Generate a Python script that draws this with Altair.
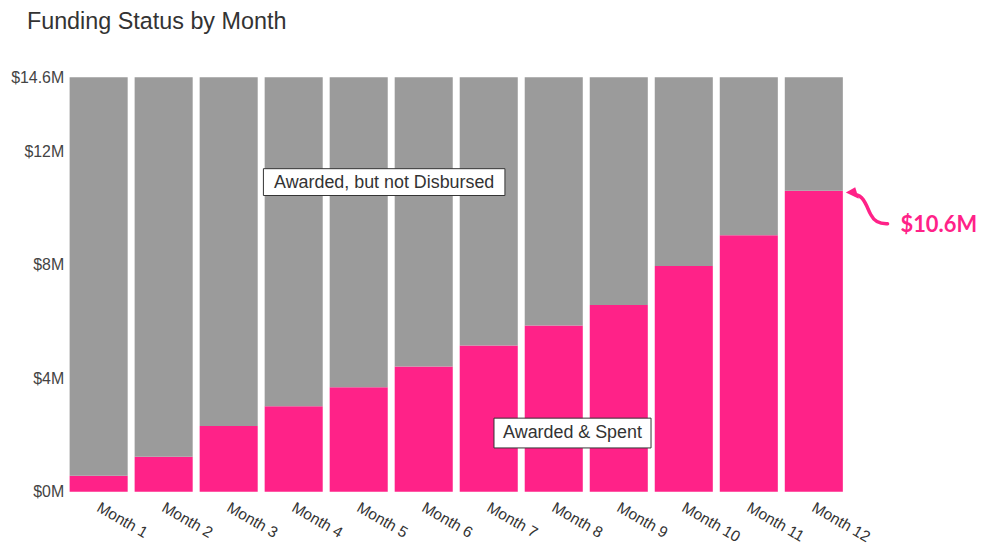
import altair as alt
import pandas as pd

# ---- data ----
months = ["Month 1", "Month 2", "Month 3", "Month 4", "Month 5", "Month 6",
          "Month 7", "Month 8", "Month 9", "Month 10", "Month 11", "Month 12"]
spent = [0.56, 1.23, 2.31, 3.01, 3.68, 4.41, 5.15, 5.85, 6.58, 7.95, 9.03, 10.6]
awarded_total = 14.6
y_ticks = [0, 4, 8, 12, 14.6]
series = ["Awarded & Spent", "Awarded, but not Disbursed"]
colors = ["#FF2288", "#9B9B9B"]
title_text = "Funding Status by Month"
callout_text = "$" + str(spent[-1]) + "M"

rows = []
for m, s in zip(months, spent):
    rows.append({"month": m, "status": series[0], "value": s, "order": 0})
    rows.append({"month": m, "status": series[1], "value": round(awarded_total - s, 2), "order": 1})
df = pd.DataFrame(rows)
one = pd.DataFrame({"a": [1]})

PINK = colors[0]
FONT = "Liberation Sans"

bars = alt.Chart(df).mark_bar().encode(
    x=alt.X("month:N", sort=months,
            scale=alt.Scale(paddingInner=0.107, paddingOuter=0),
            axis=alt.Axis(title=None, labelAngle=30, labelAlign="left", labelBaseline="top",
                          ticks=False, domain=False, labelPadding=8, labelOffset=3,
                          labelFontSize=15.5, labelColor="#333", labelFont=FONT)),
    y=alt.Y("value:Q", stack="zero",
            scale=alt.Scale(domain=[0, awarded_total], nice=False, zero=True),
            axis=alt.Axis(title=None, values=y_ticks, labelExpr="'$' + datum.value + 'M'",
                          ticks=False, domain=False, grid=False, labelPadding=6,
                          labelFontSize=16, labelColor="#444", labelFont=FONT)),
    color=alt.Color("status:N", scale=alt.Scale(domain=series, range=colors), legend=None),
    order=alt.Order("order:Q"),
)

rect1 = alt.Chart(one).mark_rect(fill="white", stroke="#333", strokeWidth=1).encode(
    x=alt.value(195), x2=alt.value(438), y=alt.value(92), y2=alt.value(119))
text1 = alt.Chart(one).mark_text(text=series[1], font=FONT, fontSize=18, color="#333",
                                 align="center", baseline="middle").encode(
    x=alt.value(316.5), y=alt.value(106))

rect2 = alt.Chart(one).mark_rect(fill="white", stroke="#333", strokeWidth=1).encode(
    x=alt.value(427), x2=alt.value(585), y=alt.value(343), y2=alt.value(373))
text2 = alt.Chart(one).mark_text(text=series[0], font=FONT, fontSize=18, color="#333",
                                 align="center", baseline="middle").encode(
    x=alt.value(506), y=alt.value(358))

curve_path = "M -0.55 -0.62 C -0.1 -0.55 0.0 0.0 0.2 0.35 C 0.35 0.65 0.6 0.8 1.0 0.78"
head_path = "M -1 -0.72 L -0.55 -0.97 L -0.38 -0.42 Z"

arrow_curve = alt.Chart(one).mark_point(shape=curve_path, filled=False, stroke=PINK,
                                        strokeWidth=3.5, strokeCap="round", size=1764,
                                        opacity=1).encode(x=alt.value(802), y=alt.value(131))
arrow_head = alt.Chart(one).mark_point(shape=head_path, filled=True, fill=PINK, strokeWidth=0,
                                       size=1764, opacity=1).encode(x=alt.value(802), y=alt.value(131))

callout = alt.Chart(one).mark_text(text=callout_text, font="Lato", fontWeight="bold",
                                   fontSize=22, color=PINK, align="left",
                                   baseline="middle").encode(x=alt.value(836), y=alt.value(149))

chart = alt.layer(bars, rect1, text1, rect2, text2, arrow_curve, arrow_head, callout).properties(
    width=778, height=417,
    title=alt.TitleParams(title_text, anchor="start", frame="group", dx=-43, fontSize=23.5,
                          font=FONT, fontWeight="normal", color="#333", offset=36),
    autosize=alt.AutoSizeParams(type="none"),
    padding={"left": 62, "top": 68, "right": 137, "bottom": 55},
).configure_view(stroke=None)

chart.save("out.html", embed_options={"renderer": "svg", "actions": False})
